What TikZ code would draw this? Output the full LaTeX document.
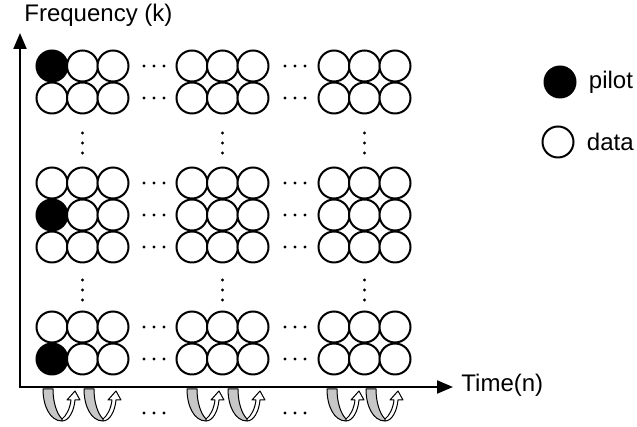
\documentclass[tikz,border=0pt]{standalone}
\usepackage{fontspec}
\setmainfont{Liberation Sans}
\usetikzlibrary{arrows.meta,positioning}

\tikzset{
  sym/.style={circle, draw, line width=1pt, minimum size=15.5pt, inner sep=0pt},
  axis/.style={line width=1.1pt, {Triangle[length=8pt,width=6.5pt]}-{Triangle[length=8pt,width=6.5pt]}},
  lbl/.style={inner sep=0pt, font=\fontsize{12}{14}\selectfont},
  hop/.style={line width=0.5pt, line join=round},
}

\begin{document}
\begin{tikzpicture}[x=0.5pt,y=0.5pt]
    \useasboundingbox (0,0) rectangle (637,427);

    % Draw axes
    \coordinate (O) at (20,40);
    \coordinate (kmax) at (20,394);
    \coordinate (nmax) at (453,40);
    \draw[axis] (kmax) -- (O) -- (nmax);
    \node[lbl, anchor=base west] (freq) at (24,405) {Frequency (k)};
    \node[lbl, anchor=base west] (time) at (461,35) {Time(n)};

    % Draw symbol grid (pilot in first column of block 1)
    \foreach \bx [count=\b] in {52,192,334}
      \foreach \ry/\p [count=\r] in {361/1,329/0,244/0,212/1,180/0,100/0,68/1}
        \foreach \c in {0,1,2} {
          \pgfmathtruncatemacro\pct{100*(\b==1)*(\c==0)*\p}
          \node[sym, fill=black!\pct] (s\b-\r-\c) at (\bx+30.5*\c,\ry) {};
        }

    % Dots between blocks
    \foreach \ry in {361,329,244,212,180,100,68,14}
      \foreach \dx in {144,154,164,285,295,305}
        \fill (\dx,\ry) circle (0.8pt);
    \foreach \dx in {82.5,222.5,364.5}
      \foreach \dy in {294,284,274,147,137,127}
        \fill (\dx,\dy) circle (0.8pt);

    % Draw legend
    \node[sym, fill=black] (pilotkey) at (560,345) {};
    \node[sym] (datakey) at (558,285) {};
    \node[lbl, right=6pt of pilotkey] (pilotlbl) {pilot};
    \node[lbl, right=6pt of datakey] (datalbl) {data};

    % Curved arrows under the time axis
    \foreach \ax in {43,84,187,228,327,366} {
      \begin{scope}[shift={(\ax,38)}]
        \filldraw[hop, fill=black!22] (0,0) -- (10,0) .. controls (10,-14) and (14,-25) .. (19,-30)
          -- (19,-32) .. controls (7,-32) and (0,-17) .. (0,0) -- cycle;
        \filldraw[hop, fill=white] (19,-32) .. controls (26,-32) and (31,-22) .. (32,-11)
          -- (37,-11) -- (32,-2) -- (24,-11) -- (28,-11) .. controls (27,-20) and (23,-27) .. (19,-30) -- cycle;
      \end{scope}
    }
\end{tikzpicture}
\end{document}
